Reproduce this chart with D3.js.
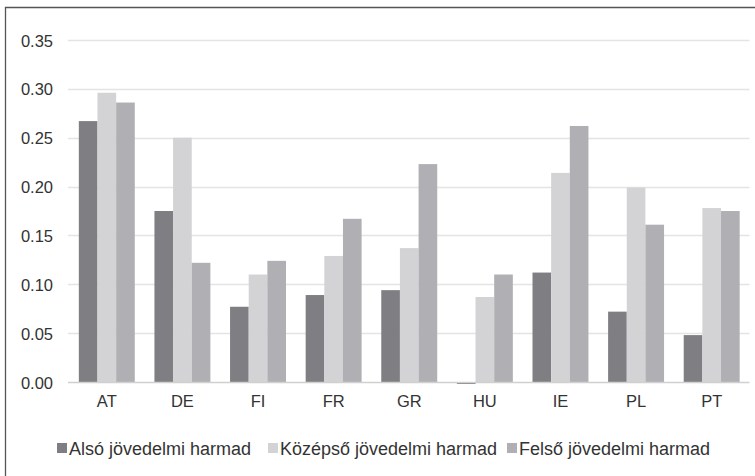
<!DOCTYPE html>
<html>
<head>
<meta charset="utf-8">
<script src="https://cdn.jsdelivr.net/npm/d3@7"></script>
<style>
  body { margin: 0; background: #fff; }
  text { font-family: "Liberation Sans", Arial, sans-serif; fill: #333; }
</style>
</head>
<body>
<svg id="chart"></svg>
<script>
const countries = ["AT", "DE", "FI", "FR", "GR", "HU", "IE", "PL", "PT"];
const seriesNames = ["Alsó jövedelmi harmad", "Középső jövedelmi harmad", "Felső jövedelmi harmad"];
const also = [0.267, 0.175, 0.077, 0.089, 0.094, -0.002, 0.112, 0.072, 0.048];
const kozepso = [0.296, 0.250, 0.110, 0.129, 0.137, 0.087, 0.214, 0.199, 0.178];
const felso = [0.286, 0.122, 0.124, 0.167, 0.223, 0.110, 0.262, 0.161, 0.175];
const yTicks = [0, 0.05, 0.1, 0.15, 0.2, 0.25, 0.3, 0.35];
const colors = ["#7f7f83", "#d3d3d5", "#b0b0b4"];

const width = 755, height = 476;
const plot = { left: 69, right: 749.5, top: 40, bottom: 382 };

const svg = d3.select("#chart").attr("width", width).attr("height", height);

// frame (right/bottom cut off in the source)
svg.append("path")
  .attr("d", `M5.5,${height} V7.5 H${width}`)
  .attr("fill", "none")
  .attr("stroke", "#555")
  .attr("stroke-width", 1.3);

const y = d3.scaleLinear().domain([0, 0.35]).range([plot.bottom, plot.top]);
const x0 = d3.scaleBand().domain(countries).range([plot.left, plot.right]).paddingInner(0.26).paddingOuter(0.13);
const x1 = d3.scaleBand().domain(d3.range(3)).range([0, x0.bandwidth()]);

// gridlines
svg.append("g")
  .selectAll("line")
  .data(yTicks.slice(1))
  .enter()
  .append("line")
  .attr("x1", plot.left - 1)
  .attr("x2", plot.right)
  .attr("y1", d => Math.round(y(d)) + 0.5)
  .attr("y2", d => Math.round(y(d)) + 0.5)
  .attr("stroke", "#e4e4e4")
  .attr("stroke-width", 1.3);

// y labels
svg.append("g")
  .selectAll("text")
  .data(yTicks)
  .enter()
  .append("text")
  .attr("x", 53)
  .attr("y", d => y(d) + 6.5)
  .attr("text-anchor", "end")
  .attr("font-size", "16.5px")
  .text(d => d3.format(".2f")(d));

// bars
const table = countries.map((c, i) => ({ c: c, v: [also[i], kozepso[i], felso[i]] }));
svg.append("g")
  .selectAll("g")
  .data(table)
  .enter()
  .append("g")
  .attr("transform", d => "translate(" + x0(d.c) + ",0)")
  .selectAll("rect")
  .data(d => d.v.map((v, k) => ({ k: k, v: v })))
  .enter()
  .append("rect")
  .attr("x", d => x1(d.k))
  .attr("width", x1.bandwidth())
  .attr("y", d => y(Math.max(0, d.v)))
  .attr("height", d => Math.abs(y(d.v) - y(0)))
  .attr("fill", d => colors[d.k]);

// zero axis
svg.append("line")
  .attr("x1", plot.left - 1)
  .attr("x2", plot.right)
  .attr("y1", y(0) + 0.5)
  .attr("y2", y(0) + 0.5)
  .attr("stroke", "#d0d0d0")
  .attr("stroke-width", 1.3);

// category labels
svg.append("g")
  .selectAll("text")
  .data(countries)
  .enter()
  .append("text")
  .attr("x", d => x0(d) + x0.bandwidth() / 2)
  .attr("y", 407)
  .attr("text-anchor", "middle")
  .attr("font-size", "16.5px")
  .text(d => d);

// legend
const legendX = [57, 268, 507];
const legend = svg.append("g")
  .selectAll("g")
  .data(seriesNames)
  .enter()
  .append("g")
  .attr("transform", (d, i) => "translate(" + legendX[i] + ",443)");
legend.append("rect")
  .attr("width", 10)
  .attr("height", 10)
  .attr("fill", (d, i) => colors[i]);
legend.append("text")
  .attr("x", 12)
  .attr("y", 11.5)
  .attr("font-size", "18px")
  .text(d => d);
</script>
</body>
</html>
